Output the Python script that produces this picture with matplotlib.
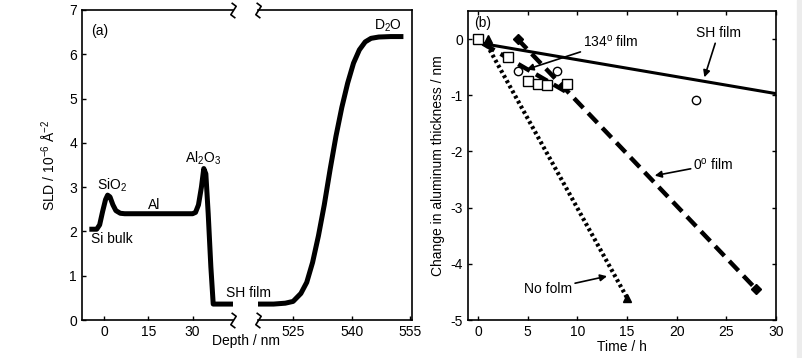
import matplotlib
matplotlib.use("Agg")
import matplotlib.pyplot as plt
from matplotlib.path import Path
import matplotlib.patches as mpatches

plt.rcParams["font.family"] = ["Liberation Sans", "DejaVu Sans"]
plt.rcParams["font.size"] = 10
plt.rcParams["axes.unicode_minus"] = False
plt.rcParams["mathtext.fontset"] = "custom"
plt.rcParams["mathtext.rm"] = "Liberation Sans"
plt.rcParams["mathtext.it"] = "Liberation Sans:italic"
plt.rcParams["mathtext.default"] = "rm"

# (a) SLD profile
depth_near = [-5, -2.5, -1.5, -0.5, 0.5, 1.2, 2.0, 3.0, 4.0, 5.5, 7, 30, 31, 32, 33, 33.8, 34.5, 35.3, 36.2, 37, 43.7]
sld_near = [2.05, 2.05, 2.15, 2.45, 2.72, 2.82, 2.78, 2.6, 2.47, 2.41, 2.4, 2.4, 2.43, 2.6, 3.0, 3.42, 3.3, 2.4, 1.2, 0.36, 0.36]
depth_far = [516, 520, 523, 525, 527, 528.5, 530, 531.5, 533, 534.5, 536, 537.5, 539, 540.5, 542, 543.5, 545, 547, 550, 553.3]
sld_far = [0.36, 0.36, 0.38, 0.42, 0.6, 0.85, 1.3, 1.9, 2.6, 3.4, 4.15, 4.8, 5.35, 5.8, 6.1, 6.28, 6.36, 6.39, 6.4, 6.4]

# (b) change in aluminium thickness
circle_t = [0, 4, 8, 22]
circle_d = [0, -0.57, -0.57, -1.08]
square_t = [0, 3, 5, 6, 7, 9]
square_d = [0, -0.32, -0.75, -0.8, -0.82, -0.8]
tri_t = [1, 15]
tri_d = [0, -4.6]
diam_t = [4, 28]
diam_d = [0, -4.45]
sh_fit_t = [0.5, 30]
sh_fit_d = [-0.08, -0.97]
nofilm_fit_t = [0.9, 15]
nofilm_fit_d = [-0.1, -4.6]
zero_fit_t = [4, 28]
zero_fit_d = [0, -4.45]
f134_fit_t = [0.5, 9]
f134_fit_d = [-0.08, -0.95]

fig = plt.figure(figsize=(8.02, 3.58), dpi=100)
ax1 = fig.add_axes([0.1022, 0.1061, 0.1883, 0.866])
ax2 = fig.add_axes([0.3217, 0.1061, 0.192, 0.866], sharey=ax1)
ax3 = fig.add_axes([0.5835, 0.1061, 0.384, 0.8631])
ax2.patch.set_visible(False)

for ax in (ax1, ax2, ax3):
    for s in ax.spines.values():
        s.set_linewidth(1.2)
    ax.tick_params(direction="in", length=3, width=1, labelsize=10)

ax1.plot(depth_near, sld_near, color="black", lw=3.6, solid_capstyle="butt")
ax2.plot(depth_far, sld_far, color="black", lw=3.6, solid_capstyle="butt")
ax1.set_xlim(-7.5, 43.7)
ax2.set_xlim(516, 555.5)
ax1.set_ylim(0, 7)
ax1.set_xticks([0, 15, 30])
ax2.set_xticks([525, 540, 555])
ax1.set_yticks(range(8))
ax1.spines["right"].set_visible(False)
ax2.spines["left"].set_visible(False)
ax2.tick_params(left=False, labelleft=False)
ax1.set_ylabel("SLD / 10$^{-6}$ Å$^{-2}$", fontsize=10, labelpad=8)
fig.text(0.307, 0.035, "Depth / nm", ha="center", fontsize=10)

# break marks
brk = Path([(-0.25, 1), (0.35, 0.55), (0, 0), (-0.35, -0.55), (0.25, -1)])
for ax, xa in ((ax1, 1), (ax2, 0)):
    for ya in (0, 1):
        ax.plot([xa], [ya], transform=ax.transAxes, marker=brk, markersize=11,
                color="black", mfc="none", mew=1.2, clip_on=False)

ax1.text(0.06, 0.955, "(a)", transform=ax1.transAxes, va="top", fontsize=10)
ax1.text(-4.5, 1.75, "Si bulk", fontsize=10)
ax1.text(-2.5, 2.95, "SiO$_2$", fontsize=10)
ax1.text(17, 2.5, "Al", ha="center", fontsize=10)
ax1.text(33.5, 3.55, "Al$_2$O$_3$", ha="center", fontsize=10)
ax1.text(41.3, 0.52, "SH film", fontsize=10, clip_on=False, zorder=5)
ax2.text(553, 6.55, "D$_2$O", ha="right", fontsize=10)

# panel (b)
ax3.plot(sh_fit_t, sh_fit_d, color="black", lw=2.2)
ax3.plot(nofilm_fit_t, nofilm_fit_d, color="black", lw=3, ls=(0, (0.7, 0.7)))
ax3.plot(zero_fit_t, zero_fit_d, color="black", lw=3.2, ls=(0, (3, 1.6)))
ax3.plot(f134_fit_t, f134_fit_d, color="black", lw=3.2, ls=(0, (3, 1.6)))
ax3.plot(circle_t, circle_d, "o", ms=6, mfc="white", mec="black", mew=1)
ax3.plot(square_t, square_d, "s", ms=6.5, mfc="white", mec="black", mew=1)
ax3.plot(tri_t, tri_d, "^", ms=6, color="black")
ax3.plot(diam_t, diam_d, "D", ms=5.5, color="black")

ax3.set_xlim(-1, 30)
ax3.set_ylim(-5, 0.5)
ax3.set_xticks(range(0, 31, 5))
ax3.set_yticks(range(-5, 1))
ax3.tick_params(top=True, right=True)
ax3.set_xlabel("Time / h", fontsize=10, labelpad=1)
ax3.set_ylabel("Change in aluminum thickness / nm", fontsize=10, labelpad=4)
ax3.text(0.02, 0.985, "(b)", transform=ax3.transAxes, va="top", fontsize=10)

arrow = dict(arrowstyle="-|>", color="black", lw=1.2, mutation_scale=10, shrinkA=0, shrinkB=0)
ax3.annotate("SH film", xy=(22.8, -0.68), xytext=(24.2, 0.1), ha="center", va="center",
             fontsize=10, arrowprops=arrow)
ax3.annotate("134$^{o}$ film", xy=(4.9, -0.54), xytext=(10.6, -0.05), ha="left", va="center",
             fontsize=10, arrowprops=arrow)
ax3.annotate("0$^{o}$ film", xy=(17.8, -2.43), xytext=(21.7, -2.23), ha="left", va="center",
             fontsize=10, arrowprops=arrow)
ax3.annotate("No folm", xy=(13, -4.22), xytext=(9.5, -4.45), ha="right", va="center",
             fontsize=10, arrowprops=arrow)

fig.patches.append(mpatches.Rectangle((0.994, 0), 0.006, 1, transform=fig.transFigure,
                                      color="#ececec", zorder=-1))

fig.savefig("out.png", dpi=100)
